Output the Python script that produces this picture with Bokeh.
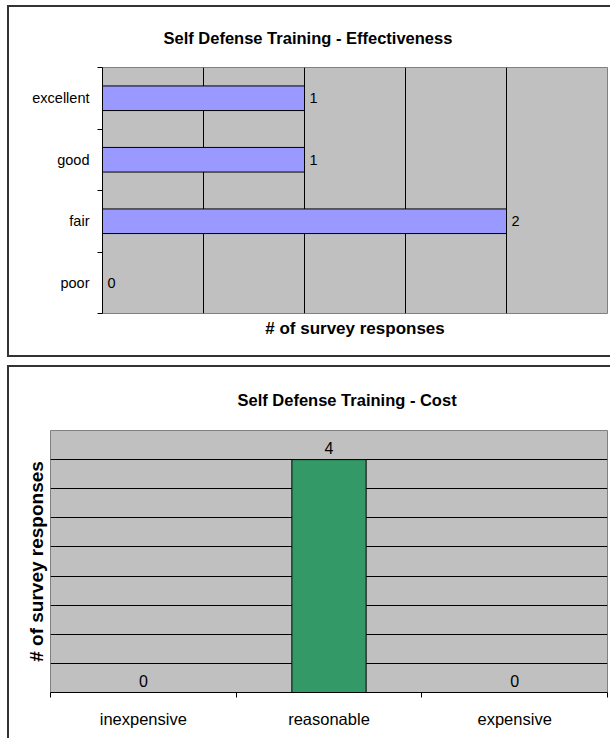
from bokeh.plotting import figure
from bokeh.models import Range1d, FixedTicker, ColumnDataSource
from bokeh.core.properties import value
from bokeh.embed import file_html
from bokeh.resources import INLINE

# ---- data ----
eff_categories = ["poor", "fair", "good", "excellent"]
eff_values = [0, 2, 1, 1]
eff_grid = [0.5, 1.0, 1.5, 2.0]
eff_max = 2.5

cost_categories = ["inexpensive", "reasonable", "expensive"]
cost_values = [0, 4, 0]
cost_grid = [0.5, 1.0, 1.5, 2.0, 2.5, 3.0, 3.5, 4.0]
cost_max = 4.5

eff_title = "Self Defense Training - Effectiveness"
cost_title = "Self Defense Training - Cost"
axis_title = "# of survey responses"

FONT = "Liberation Sans"
PLOT_BG = "#C0C0C0"
FRAME = "2px solid #333333"


def style_title(p, text, offset, standoff):
    t = p.title
    t.text = text
    t.align = "left"
    t.vertical_align = "top"
    t.offset = offset
    t.standoff = standoff
    t.text_font = FONT
    t.text_font_style = "bold"
    t.text_font_size = "16.5px"
    t.text_color = "#000000"


# ---------------- Figure 1: Effectiveness ----------------
n1 = len(eff_categories)
centers1 = [i + 0.5 for i in range(n1)]
src1 = ColumnDataSource(dict(y=centers1, v=eff_values, lbl=[str(v) for v in eff_values]))

p1 = figure(width=603, height=352, x_range=Range1d(0, eff_max), y_range=Range1d(0, n1),
            output_backend="svg", toolbar_location=None,
            min_border_left=93, min_border_right=5, min_border_top=60, min_border_bottom=46,
            styles={"border-left": FRAME, "border-top": FRAME, "border-bottom": FRAME})
p1.margin = (5, 0, 0, 7)
p1.background_fill_color = PLOT_BG
p1.border_fill_color = "white"
p1.outline_line_color = "#808080"
p1.outline_line_width = 1
style_title(p1, eff_title, 61, 37)

p1.hbar(y="y", right="v", left=0, height=0.4, source=src1,
        fill_color="#9999FF", line_color="#000000", line_width=1)
p1.text(x="v", y="y", text="lbl", source=src1, x_offset=5,
        text_align="left", text_baseline="middle",
        text_font=value(FONT), text_font_size="14.5px", text_color="#000000")

# y axis: labels at category centres, tick marks at category boundaries
p1.yaxis.ticker = FixedTicker(ticks=centers1, minor_ticks=list(range(n1 + 1)))
p1.yaxis.major_label_overrides = {c: lab for c, lab in zip(centers1, eff_categories)}
p1.yaxis.major_tick_in = 0
p1.yaxis.major_tick_out = 0
p1.yaxis.minor_tick_in = 0
p1.yaxis.minor_tick_out = 5
p1.yaxis.minor_tick_line_color = "#000000"
p1.yaxis.axis_line_color = "#000000"
p1.yaxis.major_label_standoff = 8
p1.yaxis.major_label_text_font = FONT
p1.yaxis.major_label_text_font_size = "14.5px"
p1.yaxis.major_label_text_color = "#000000"

# x axis: only the title; grid has its own ticker
xa1 = p1.below[0]
xa1.ticker = FixedTicker(ticks=[])
xa1.major_tick_in = 0
xa1.major_tick_out = 0
xa1.minor_tick_out = 0
xa1.axis_line_color = None
xa1.axis_label = axis_title
xa1.axis_label_text_font = FONT
xa1.axis_label_text_font_style = "bold"
xa1.axis_label_text_font_size = "17px"
xa1.axis_label_text_color = "#000000"
xa1.axis_label_standoff = 5

p1.xgrid.ticker = FixedTicker(ticks=eff_grid)
p1.xgrid.grid_line_color = "#000000"
p1.xgrid.grid_line_width = 1
p1.ygrid.visible = False

# ---------------- Figure 2: Cost ----------------
n2 = len(cost_categories)
centers2 = [i + 0.5 for i in range(n2)]
src2 = ColumnDataSource(dict(x=centers2, v=cost_values, lbl=[str(v) for v in cost_values]))

p2 = figure(width=603, height=373, x_range=Range1d(0, n2), y_range=Range1d(0, cost_max),
            output_backend="svg", toolbar_location=None,
            min_border_left=41, min_border_right=5, min_border_top=63, min_border_bottom=48,
            styles={"border-left": FRAME, "border-top": FRAME})
p2.margin = (8, 0, 0, 7)
p2.background_fill_color = PLOT_BG
p2.border_fill_color = "white"
p2.outline_line_color = "#808080"
p2.outline_line_width = 1
style_title(p2, cost_title, 187, 40)

p2.vbar(x="x", top="v", bottom=0, width=0.4, source=src2,
        fill_color="#339966", line_color="#000000", line_width=1)
p2.text(x="x", y="v", text="lbl", source=src2, y_offset=-6,
        text_align="center", text_baseline="bottom",
        text_font=value(FONT), text_font_size="16px", text_color="#000000")

xa2 = p2.below[0]
xa2.ticker = FixedTicker(ticks=centers2, minor_ticks=list(range(n2 + 1)))
xa2.major_label_overrides = {c: lab for c, lab in zip(centers2, cost_categories)}
xa2.major_tick_in = 0
xa2.major_tick_out = 0
xa2.minor_tick_in = 0
xa2.minor_tick_out = 5
xa2.minor_tick_line_color = "#000000"
xa2.axis_line_color = "#000000"
xa2.major_label_standoff = 12
xa2.major_label_text_font = FONT
xa2.major_label_text_font_size = "16.5px"
xa2.major_label_text_color = "#000000"
p2.xgrid.visible = False

p2.yaxis.ticker = FixedTicker(ticks=[])
p2.yaxis.major_tick_in = 0
p2.yaxis.major_tick_out = 0
p2.yaxis.minor_tick_out = 0
p2.yaxis.axis_line_color = None
p2.yaxis.axis_label = axis_title
p2.yaxis.axis_label_text_font = FONT
p2.yaxis.axis_label_text_font_style = "bold"
p2.yaxis.axis_label_text_font_size = "19px"
p2.yaxis.axis_label_text_color = "#000000"
p2.yaxis.axis_label_standoff = 4

p2.ygrid.ticker = FixedTicker(ticks=cost_grid)
p2.ygrid.grid_line_color = "#000000"
p2.ygrid.grid_line_width = 1

open("out.html", "w").write(file_html([p1, p2], INLINE))
